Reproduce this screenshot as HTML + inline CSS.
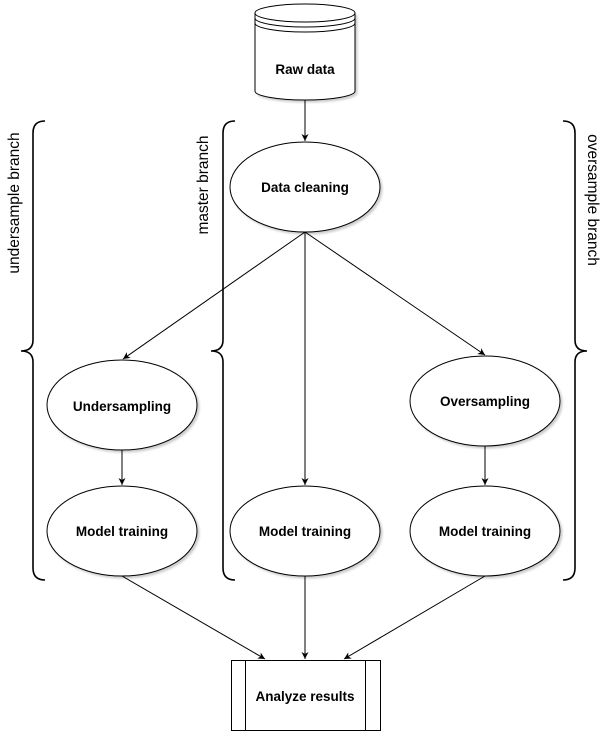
<!DOCTYPE html>
<html><head><meta charset="utf-8"><style>
html,body{margin:0;padding:0;background:#fff;}
svg{display:block;}
text{font-family:"Liberation Sans",Arial,sans-serif;font-size:13.5px;font-weight:bold;fill:#000;}
.lbl{font-weight:normal;font-size:15.5px;}
</style></head><body>
<svg width="606" height="731" viewBox="0 0 606 731" xmlns="http://www.w3.org/2000/svg">
<defs>
<marker id="a" markerWidth="8" markerHeight="8" refX="7" refY="4" orient="auto" markerUnits="userSpaceOnUse">
<path d="M0,0.5 L7,4 L0,7.5 L2,4 Z" fill="#000"/>
</marker>
<filter id="sh" x="-10%" y="-10%" width="130%" height="130%"><feDropShadow dx="2" dy="2" stdDeviation="1" flood-color="#000" flood-opacity="0.2"/></filter>
</defs>
<g fill="#fff" stroke="#000" stroke-width="1">
<path d="M255,13 L255,91 A50,9 0 0 0 355,91 L355,13" filter="url(#sh)"/>
<ellipse cx="305" cy="13" rx="50" ry="9"/>
<path d="M255,18 A50,9 0 0 0 355,18 M255,23 A50,9 0 0 0 355,23" fill="none"/>
<ellipse cx="305" cy="187" rx="75" ry="45" filter="url(#sh)"/>
<ellipse cx="122" cy="405" rx="75" ry="45" filter="url(#sh)"/>
<ellipse cx="485" cy="401" rx="75" ry="45" filter="url(#sh)"/>
<ellipse cx="122" cy="531" rx="75" ry="45" filter="url(#sh)"/>
<ellipse cx="305" cy="531" rx="75" ry="45" filter="url(#sh)"/>
<ellipse cx="485" cy="531" rx="75" ry="45" filter="url(#sh)"/>
<rect x="231.5" y="660.5" width="149" height="70"/>
<line x1="245.5" y1="660" x2="245.5" y2="731"/>
<line x1="365.5" y1="660" x2="365.5" y2="731"/>
</g>
<g fill="none" stroke="#000" stroke-width="1.6">
<path d="M45,121 Q33,121 33,133 L33,340 Q33,351 21,351 Q33,351 33,362 L33,568 Q33,580 45,580"/>
<path d="M235,121 Q223,121 223,133 L223,340 Q223,351 211,351 Q223,351 223,362 L223,568 Q223,580 235,580"/>
<path d="M563,121 Q575,121 575,133 L575,340 Q575,351 587,351 Q575,351 575,362 L575,568 Q575,580 563,580"/>
</g>
<g stroke="#000" stroke-width="1" marker-end="url(#a)">
<line x1="305" y1="100" x2="305" y2="141"/>
<line x1="305" y1="232" x2="123" y2="359"/>
<line x1="305" y1="232" x2="305" y2="485"/>
<line x1="305" y1="232" x2="485" y2="355"/>
<line x1="122" y1="450" x2="122" y2="485"/>
<line x1="485" y1="446" x2="485" y2="485"/>
<line x1="122" y1="576" x2="265" y2="659"/>
<line x1="305" y1="576" x2="305" y2="659"/>
<line x1="485" y1="576" x2="344" y2="659"/>
</g>
<g text-anchor="middle">
<text x="305" y="74">Raw data</text>
<text x="305" y="192">Data cleaning</text>
<text x="122" y="411">Undersampling</text>
<text x="485" y="406">Oversampling</text>
<text x="122" y="536">Model training</text>
<text x="305" y="536">Model training</text>
<text x="485" y="536">Model training</text>
<text x="305" y="701">Analyze results</text>
<text class="lbl" transform="translate(19,203) rotate(-90)">undersample branch</text>
<text class="lbl" transform="translate(208,185) rotate(-90)">master branch</text>
<text class="lbl" transform="translate(588,200) rotate(90)">oversample branch</text>
</g>
</svg>
</body></html>
